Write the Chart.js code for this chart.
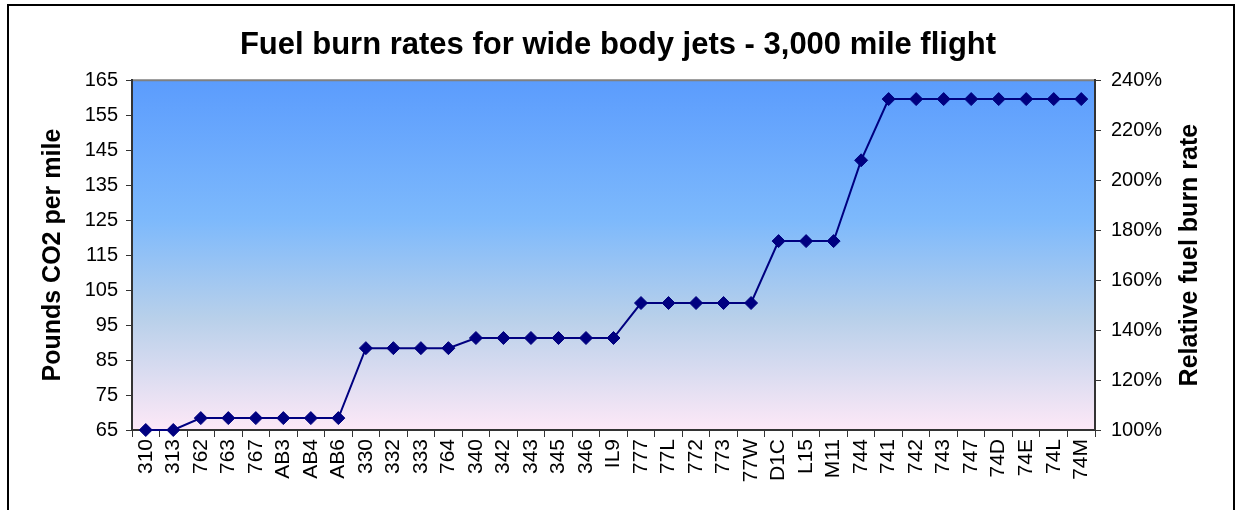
<!DOCTYPE html>
<html>
<head>
<meta charset="utf-8">
<script src="https://cdn.jsdelivr.net/npm/chart.js@4.4.0/dist/chart.umd.min.js"></script>
<style>
  body { margin: 0; background: #fff; }
  #wrap { position: relative; width: 1236px; height: 510px; }
  #frame { position: absolute; left: 7px; top: 4px; width: 1228px; height: 530px; border: 2px solid #000; box-sizing: border-box; pointer-events: none; }
  canvas { position: absolute; left: 0; top: 0; }
</style>
</head>
<body>
<div id="wrap">
  <canvas id="myChart" width="1236" height="510"></canvas>
  <div id="frame"></div>
</div>
<script>
const aircraft = ["310","313","762","763","767","AB3","AB4","AB6","330","332","333","764","340","342","343","345","346","IL9","777","77L","772","773","77W","D1C","L15","M11","744","741","742","743","747","74D","74E","74L","74M"];
const co2PerMile = [65, 65, 68.4, 68.4, 68.4, 68.4, 68.4, 68.4, 88.4, 88.4, 88.4, 88.4, 91.3, 91.3, 91.3, 91.3, 91.3, 91.3, 101.3, 101.3, 101.3, 101.3, 101.3, 119, 119, 119, 142.1, 159.6, 159.6, 159.6, 159.6, 159.6, 159.6, 159.6, 159.6];
const leftTicks = [65, 75, 85, 95, 105, 115, 125, 135, 145, 155, 165];
const rightTicks = [100, 120, 140, 160, 180, 200, 220, 240];
const rightTitle = "Relative fuel burn rate";

const font = "'Liberation Sans', Arial, sans-serif";

// gradient fill behind the plot
const plotBg = {
    id: "plotBg",
    beforeDraw(chart) {
        const { ctx, chartArea: a } = chart;
        const g = ctx.createLinearGradient(0, a.top, 0, a.bottom);
        g.addColorStop(0, "#5b9cfd");
        g.addColorStop(0.4, "#7db9fc");
        g.addColorStop(0.68, "#b8d0ea");
        g.addColorStop(1, "#fde8f7");
        ctx.save();
        ctx.fillStyle = g;
        ctx.fillRect(a.left, a.top, a.right - a.left, a.bottom - a.top);
        ctx.strokeStyle = "#808080";
        ctx.lineWidth = 2;
        ctx.beginPath();
        ctx.moveTo(a.left, a.top);
        ctx.lineTo(a.right, a.top);
        ctx.stroke();
        ctx.restore();
    },
    // right title reads bottom to top, like the left one
    afterDraw(chart) {
        const { ctx, chartArea: a } = chart;
        ctx.save();
        ctx.translate(1190, (a.top + a.bottom) / 2);
        ctx.rotate(-Math.PI / 2);
        ctx.fillStyle = "#000";
        ctx.font = "bold 25px " + font;
        ctx.textAlign = "center";
        ctx.textBaseline = "middle";
        ctx.fillText(rightTitle, 0, 0);
        ctx.restore();
    }
};

const ctx = document.getElementById("myChart");

new Chart(ctx, {
    type: "line",
    data: {
        labels: aircraft,
        datasets: [
            {
                label: "Pounds CO2 per mile",
                data: co2PerMile,
                borderColor: "#000080",
                backgroundColor: "#000080",
                borderWidth: 2,
                pointStyle: "rectRot",
                pointRadius: 6.5,
                pointBorderWidth: 1,
                tension: 0,
                clip: false,
                yAxisID: "y"
            }
        ]
    },
    options: {
        responsive: false,
        animation: false,
        layout: { padding: 0 },
        plugins: {
            legend: { display: false },
            tooltip: { enabled: false },
            title: {
                display: true,
                text: "Fuel burn rates for wide body jets - 3,000 mile flight",
                color: "#000",
                font: { family: font, size: 31, weight: "bold" },
                padding: { top: 27, bottom: 16 }
            }
        },
        scales: {
            x: {
                offset: true,
                afterFit: (axis) => { axis.height = 80; },
                grid: { display: true, drawOnChartArea: false, color: "#333", tickLength: 7, offset: true },
                border: { display: true, color: "#333", width: 2 },
                ticks: {
                    color: "#000",
                    font: { family: font, size: 21 },
                    minRotation: 90,
                    maxRotation: 90,
                    autoSkip: false,
                    padding: 2
                }
            },
            y: {
                position: "left",
                min: 65,
                max: 165,
                afterBuildTicks: (axis) => { axis.ticks = leftTicks.map(v => ({ value: v })); },
                afterFit: (axis) => { axis.width = 132; },
                grid: { drawOnChartArea: false, color: "#333", tickLength: 6 },
                border: { display: true, color: "#333", width: 2 },
                ticks: { color: "#000", font: { family: font, size: 20 }, padding: 8 },
                title: {
                    display: true,
                    text: "Pounds CO2 per mile",
                    color: "#000",
                    font: { family: font, size: 25, weight: "bold" },
                    padding: { top: 38, bottom: 0 }
                }
            },
            y2: {
                position: "right",
                min: 100,
                max: 240,
                afterBuildTicks: (axis) => { axis.ticks = rightTicks.map(v => ({ value: v })); },
                afterFit: (axis) => { axis.width = 141; },
                grid: { drawOnChartArea: false, color: "#333", tickLength: 6 },
                border: { display: true, color: "#333", width: 2 },
                ticks: {
                    color: "#000",
                    font: { family: font, size: 20 },
                    padding: 10,
                    callback: (v) => v + "%"
                }
            }
        }
    },
    plugins: [plotBg]
});
</script>
</body>
</html>
